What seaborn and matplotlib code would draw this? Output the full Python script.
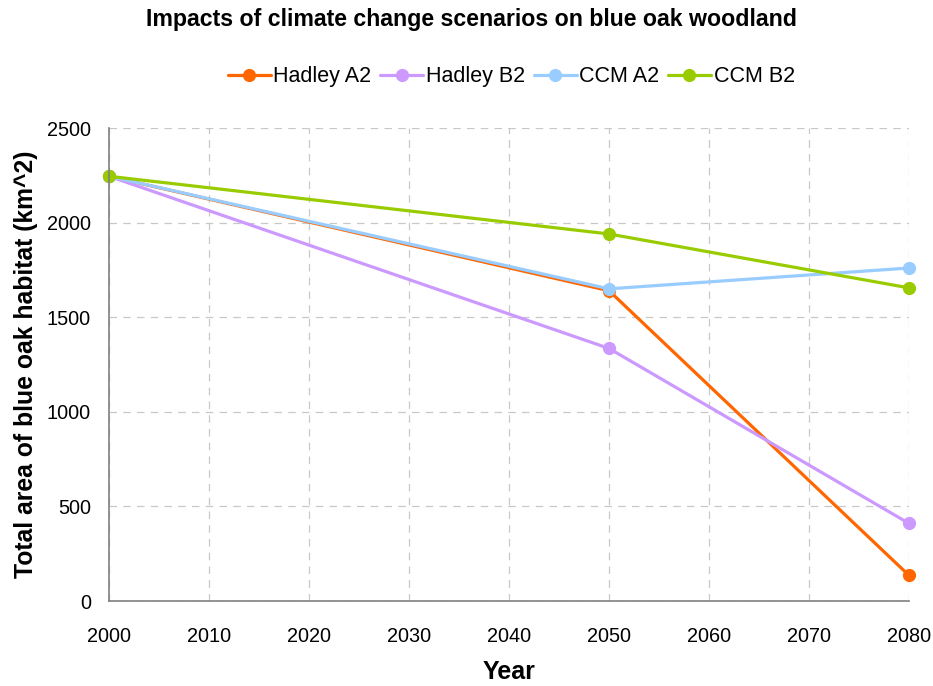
import matplotlib
matplotlib.use("Agg")
import matplotlib.pyplot as plt
import seaborn as sns
import pandas as pd

years = [2000, 2050, 2080]
hadley_a2 = [2245, 1640, 135]
hadley_b2 = [2245, 1335, 410]
ccm_a2 = [2245, 1650, 1760]
ccm_b2 = [2245, 1940, 1655]
series_names = ["Hadley A2", "Hadley B2", "CCM A2", "CCM B2"]
colors = ["#FF6600", "#CC99FF", "#99CCFF", "#99CC00"]
x_ticks = list(range(2000, 2081, 10))
y_ticks = [0, 500, 1000, 1500, 2000, 2500]

rows = []
for name, vals in zip(series_names, [hadley_a2, hadley_b2, ccm_a2, ccm_b2]):
    for y, v in zip(years, vals):
        rows.append({"Year": y, "Area": v, "Scenario": name})
df = pd.DataFrame(rows)

sns.set_style("white")
plt.rcParams["font.family"] = ["Liberation Sans", "DejaVu Sans"]
plt.rcParams["text.color"] = "black"
plt.rcParams["axes.labelcolor"] = "black"
plt.rcParams["xtick.color"] = "black"
plt.rcParams["ytick.color"] = "black"

fig = plt.figure(figsize=(9.33, 6.86), dpi=100)
ax = fig.add_axes([0.1168, 0.1239, 0.8575, 0.6895])

sns.lineplot(data=df, x="Year", y="Area", hue="Scenario", hue_order=series_names,
             palette=colors, marker="o", markersize=9.5, markeredgewidth=0,
             linewidth=2.3, ax=ax, legend=True)
for ln in ax.get_lines():
    ln.set_clip_on(False)

ax.set_xlim(2000, 2080)
ax.set_ylim(0, 2500)
ax.set_xticks(x_ticks)
ax.set_yticks(y_ticks)
ax.grid(True, color="#C8C8C8", linestyle=(0, (6, 5)), linewidth=0.9)
ax.set_axisbelow(True)
for s in ["top", "right"]:
    ax.spines[s].set_visible(False)
for s in ["left", "bottom"]:
    ax.spines[s].set_color("#808080")
    ax.spines[s].set_linewidth(1.2)
ax.tick_params(axis="both", direction="out", length=6, width=1.2, color="#808080",
               labelsize=14.3, pad=13, labelcolor="black")
ax.tick_params(axis="y", pad=7)

ax.set_xlabel("Year", fontsize=18, fontweight="bold", labelpad=10, color="black")
ax.set_ylabel("Total area of blue oak habitat (km^2)", fontsize=17.8, fontweight="bold",
              labelpad=6, color="black")
fig.suptitle("Impacts of climate change scenarios on blue oak woodland",
             fontsize=16.7, fontweight="bold", x=0.505, y=0.988, color="black")

handles, labels = ax.get_legend_handles_labels()
ax.get_legend().remove()
leg = fig.legend(handles, labels, loc="center", bbox_to_anchor=(0.548, 0.888), ncol=4,
                 frameon=False, fontsize=15.5, handlelength=2.0, handletextpad=0.12,
                 columnspacing=0.4, labelcolor="black")

fig.savefig("out.png", dpi=100)
